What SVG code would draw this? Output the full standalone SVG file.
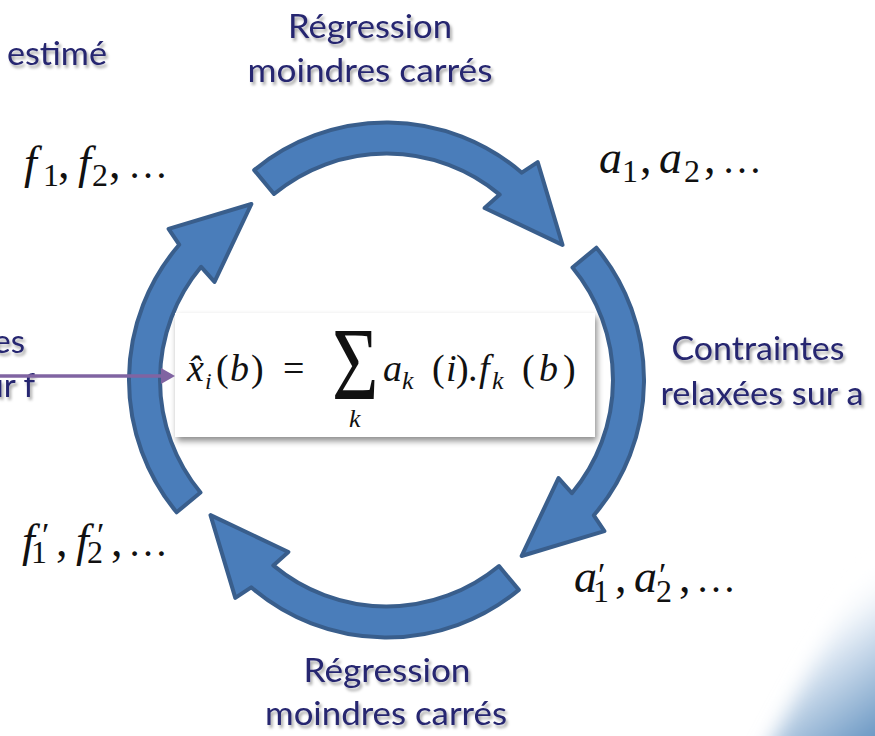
<svg xmlns="http://www.w3.org/2000/svg" xmlns:xlink="http://www.w3.org/1999/xlink" width="875" height="736" viewBox="0 0 875 736">
<style>
.lbl{font-family:Lato,"Open Sans","Liberation Sans",sans-serif;font-size:33px;fill:#25256f;filter:url(#txtShadow)}
.math{font-family:"Liberation Serif","DejaVu Serif",serif;fill:#111}
.it{font-style:italic}
.arr{fill:#4a7dba;stroke:#395e8c;stroke-width:4;stroke-linejoin:round}
.link{stroke:#8064a2;stroke-width:3.5;fill:none}
</style>
<defs>
<filter id="txtShadow" x="-10%" y="-30%" width="130%" height="170%">
<feDropShadow dx="2" dy="3" stdDeviation="1.5" flood-color="#000" flood-opacity="0.35"/>
</filter>
<filter id="boxShadow" x="-5%" y="-10%" width="115%" height="130%">
<feDropShadow dx="2" dy="4" stdDeviation="3" flood-color="#000" flood-opacity="0.45"/>
</filter>
<filter id="soft" x="-30%" y="-30%" width="160%" height="160%">
<feGaussianBlur stdDeviation="10"/>
</filter>
<linearGradient id="corner" x1="795" y1="625" x2="878" y2="736" gradientUnits="userSpaceOnUse">
<stop offset="0" stop-color="#ffffff" stop-opacity="0"/>
<stop offset="0.3" stop-color="#e2ebf5"/>
<stop offset="1" stop-color="#6a97c3"/>
</linearGradient>
<marker id="head" markerUnits="userSpaceOnUse" markerWidth="16" markerHeight="16" refX="0" refY="8" orient="auto">
<path d="M0,0 L14,8 L0,16 Z" fill="#8064a2"/>
</marker>
<path id="carrow" class="arr" d="M254.2,170.1 A207.5,207.5 0 0 1 521.8,172.7 L537.7,162.1 L562.5,244.9 L484.6,208.0 L499.7,194.6 A176.5,176.5 0 0 0 274.0,194.0 Z"/>
</defs>
<rect width="875" height="736" fill="#fff"/>
<path id="corner-deco" d="M762,760 C800,690 842,610 900,515 L900,760 Z" fill="url(#corner)" filter="url(#soft)"/>

<g id="cycle">
<use xlink:href="#carrow"/>
<use xlink:href="#carrow" transform="rotate(90 386.5 380)"/>
<use xlink:href="#carrow" transform="rotate(180 386.5 380)"/>
<use xlink:href="#carrow" transform="rotate(270 386.5 380)"/>
</g>

<g id="formula">
<rect x="175" y="313" width="420" height="124" fill="#fff" filter="url(#boxShadow)"/>
<text class="math" font-size="38">
<tspan x="187" y="381" class="it">x̂</tspan>
<tspan x="205" y="389" font-size="24" class="it">i</tspan>
<tspan x="216" y="381">(</tspan>
<tspan x="230" y="381" class="it">b</tspan>
<tspan x="251" y="381">)</tspan>
<tspan x="283" y="381">=</tspan>
<tspan x="383" y="381" class="it">a</tspan>
<tspan x="402" y="389" font-size="26" class="it">k</tspan>
<tspan x="432" y="381">(</tspan>
<tspan x="446" y="381" class="it">i</tspan>
<tspan x="456" y="381">)</tspan>
<tspan x="468" y="381">.</tspan>
<tspan x="479" y="381" class="it">f</tspan>
<tspan x="492" y="389" font-size="26" class="it">k</tspan>
<tspan x="522" y="381">(</tspan>
<tspan x="539" y="381" class="it">b</tspan>
<tspan x="563" y="381">)</tspan>
</text>
<text class="math" font-size="76" transform="translate(332,399) scale(1.05,1.36)">Σ</text>
<text class="math it" font-size="26" x="349" y="427">k</text>
</g>

<g id="labels">
<text class="lbl" x="370" y="38" text-anchor="middle" textLength="164" lengthAdjust="spacingAndGlyphs">Régression</text>
<text class="lbl" x="370" y="82" text-anchor="middle" textLength="245" lengthAdjust="spacingAndGlyphs">moindres carrés</text>
<text class="lbl" x="387" y="682" text-anchor="middle" textLength="167" lengthAdjust="spacingAndGlyphs">Régression</text>
<text class="lbl" x="386" y="725" text-anchor="middle" textLength="242" lengthAdjust="spacingAndGlyphs">moindres carrés</text>
<text class="lbl" x="758" y="360" text-anchor="middle" textLength="173" lengthAdjust="spacingAndGlyphs">Contraintes</text>
<text class="lbl" x="762" y="405" text-anchor="middle" textLength="203" lengthAdjust="spacingAndGlyphs">relaxées sur a</text>
<text class="lbl" x="7" y="65" textLength="100" lengthAdjust="spacingAndGlyphs">estimé</text>
<text class="lbl" x="25" y="353" text-anchor="end">es</text>
<text class="lbl" x="35" y="397" text-anchor="end">ur f</text>
</g>

<g id="vars">
<text class="math" font-size="46">
<tspan x="24" y="178" class="it">f</tspan><tspan x="43" y="186" font-size="32">1</tspan><tspan x="58" y="178">,</tspan>
<tspan x="78" y="178" class="it">f</tspan><tspan x="92" y="186" font-size="32">2</tspan><tspan x="109" y="178">,</tspan>
<tspan x="128" y="178" font-size="40">…</tspan>
</text>
<text class="math" font-size="46">
<tspan x="599" y="173" class="it">a</tspan><tspan x="622" y="182" font-size="32">1</tspan><tspan x="640" y="173">,</tspan>
<tspan x="659" y="173" class="it">a</tspan><tspan x="684" y="182" font-size="32">2</tspan><tspan x="704" y="173">,</tspan>
<tspan x="722" y="173" font-size="40">…</tspan>
</text>
<text class="math" font-size="46">
<tspan x="22" y="556" class="it">f</tspan><tspan x="42" y="546" font-size="34">′</tspan><tspan x="31" y="563" font-size="32">1</tspan><tspan x="56" y="556">,</tspan>
<tspan x="76" y="556" class="it">f</tspan><tspan x="97" y="546" font-size="34">′</tspan><tspan x="87" y="563" font-size="32">2</tspan><tspan x="111" y="556">,</tspan>
<tspan x="128" y="556" font-size="40">…</tspan>
</text>
<text class="math" font-size="46">
<tspan x="574" y="592" class="it">a</tspan><tspan x="598" y="586" font-size="34">′</tspan><tspan x="593" y="602" font-size="32">1</tspan><tspan x="615" y="592">,</tspan>
<tspan x="634" y="592" class="it">a</tspan><tspan x="659" y="586" font-size="34">′</tspan><tspan x="656" y="602" font-size="32">2</tspan><tspan x="679" y="592">,</tspan>
<tspan x="696" y="592" font-size="40">…</tspan>
</text>
</g>

<g id="connectors">
<line class="link" x1="0" y1="376" x2="161" y2="376" marker-end="url(#head)"/>
</g>
</svg>
